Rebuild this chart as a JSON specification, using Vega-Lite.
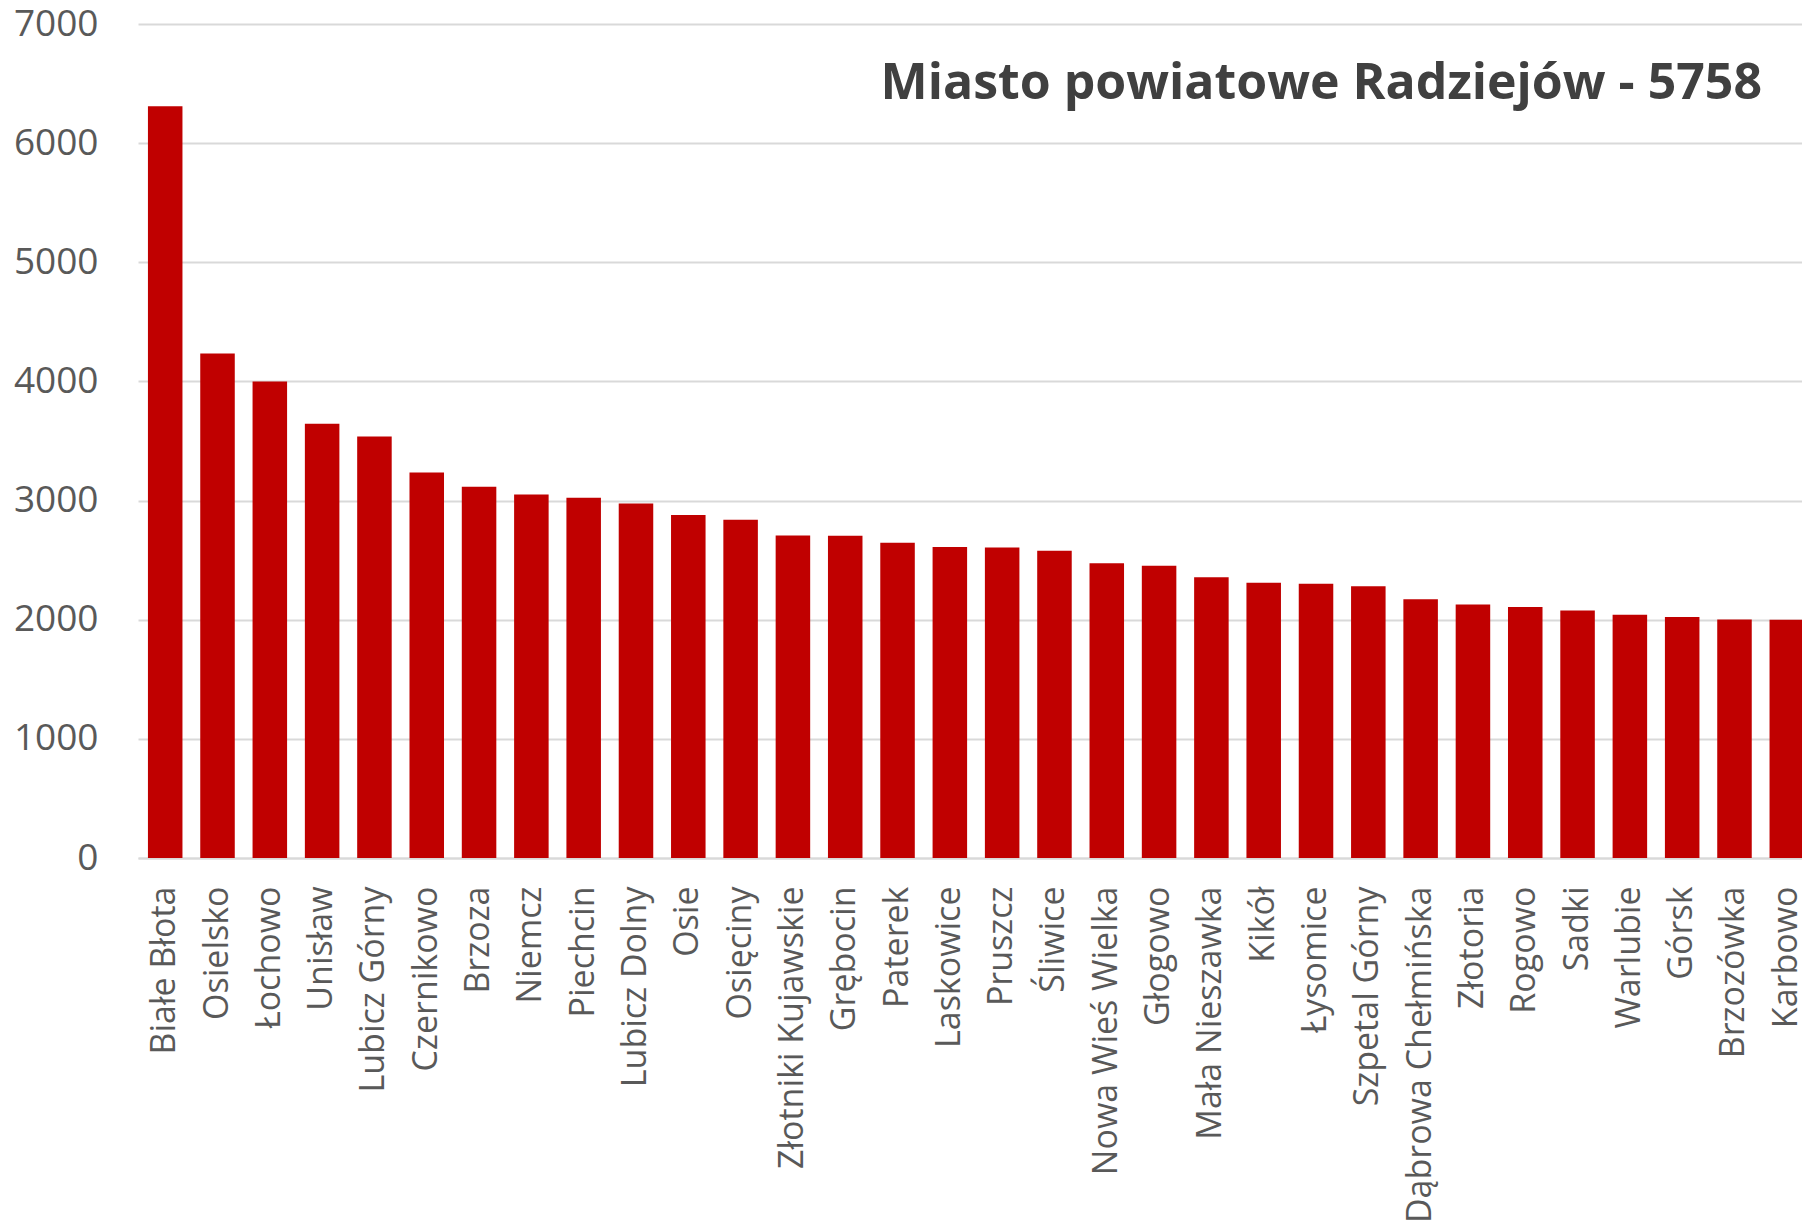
{
  "$schema": "https://vega.github.io/schema/vega-lite/v6.json",
  "width": 1664,
  "height": 834,
  "autosize": {"type": "none"},
  "padding": {"left": 138, "top": 24, "right": 0, "bottom": 368},
  "background": "white",
  "title": {
    "text": "Miasto powiatowe Radziejów - 5758",
    "anchor": "end",
    "frame": "group",
    "orient": "top",
    "offset": -104,
    "dx": -40,
    "font": "Open Sans",
    "fontSize": 50,
    "fontWeight": "bold",
    "color": "#404040"
  },
  "config": {"view": {"stroke": null}},
  "data": {
    "values": [
      {"gmina": "Białe Błota", "wartosc": 6310},
      {"gmina": "Osielsko", "wartosc": 4235},
      {"gmina": "Łochowo", "wartosc": 4000},
      {"gmina": "Unisław", "wartosc": 3645},
      {"gmina": "Lubicz Górny", "wartosc": 3537},
      {"gmina": "Czernikowo", "wartosc": 3236},
      {"gmina": "Brzoza", "wartosc": 3115},
      {"gmina": "Niemcz", "wartosc": 3052},
      {"gmina": "Piechcin", "wartosc": 3024},
      {"gmina": "Lubicz Dolny", "wartosc": 2975},
      {"gmina": "Osie", "wartosc": 2878},
      {"gmina": "Osięciny", "wartosc": 2840},
      {"gmina": "Złotniki Kujawskie", "wartosc": 2706},
      {"gmina": "Grębocin", "wartosc": 2704},
      {"gmina": "Paterek", "wartosc": 2647},
      {"gmina": "Laskowice", "wartosc": 2610},
      {"gmina": "Pruszcz", "wartosc": 2607},
      {"gmina": "Śliwice", "wartosc": 2579},
      {"gmina": "Nowa Wieś Wielka", "wartosc": 2473},
      {"gmina": "Głogowo", "wartosc": 2453},
      {"gmina": "Mała Nieszawka", "wartosc": 2356},
      {"gmina": "Kikół", "wartosc": 2310},
      {"gmina": "Łysomice", "wartosc": 2302},
      {"gmina": "Szpetal Górny", "wartosc": 2280},
      {"gmina": "Dąbrowa Chełmińska", "wartosc": 2172},
      {"gmina": "Złotoria", "wartosc": 2128},
      {"gmina": "Rogowo", "wartosc": 2107},
      {"gmina": "Sadki", "wartosc": 2077},
      {"gmina": "Warlubie", "wartosc": 2042},
      {"gmina": "Górsk", "wartosc": 2022},
      {"gmina": "Brzozówka", "wartosc": 2002},
      {"gmina": "Karbowo", "wartosc": 2000}
    ]
  },
  "mark": {"type": "bar", "color": "#c00000"},
  "encoding": {
    "x": {
      "field": "gmina",
      "type": "nominal",
      "sort": null,
      "scale": {"range": [0, 1676], "paddingInner": 0.34, "paddingOuter": 0.19},
      "axis": {
        "title": null,
        "labelAngle": -90,
        "labelFont": "Open Sans",
        "labelFontSize": 34,
        "labelColor": "#595959",
        "ticks": false,
        "labelPadding": 28,
        "domainColor": "#d9d9d9",
        "domainWidth": 2,
        "labelOverlap": false,
        "labelLimit": 0
      }
    },
    "y": {
      "field": "wartosc",
      "type": "quantitative",
      "scale": {"domain": [0, 7000]},
      "axis": {
        "title": null,
        "values": [0, 1000, 2000, 3000, 4000, 5000, 6000, 7000],
        "format": "d",
        "labelFont": "Open Sans",
        "labelFontSize": 37,
        "labelColor": "#595959",
        "ticks": false,
        "domain": false,
        "labelPadding": 40,
        "gridColor": "#d9d9d9",
        "gridWidth": 2
      }
    }
  }
}
